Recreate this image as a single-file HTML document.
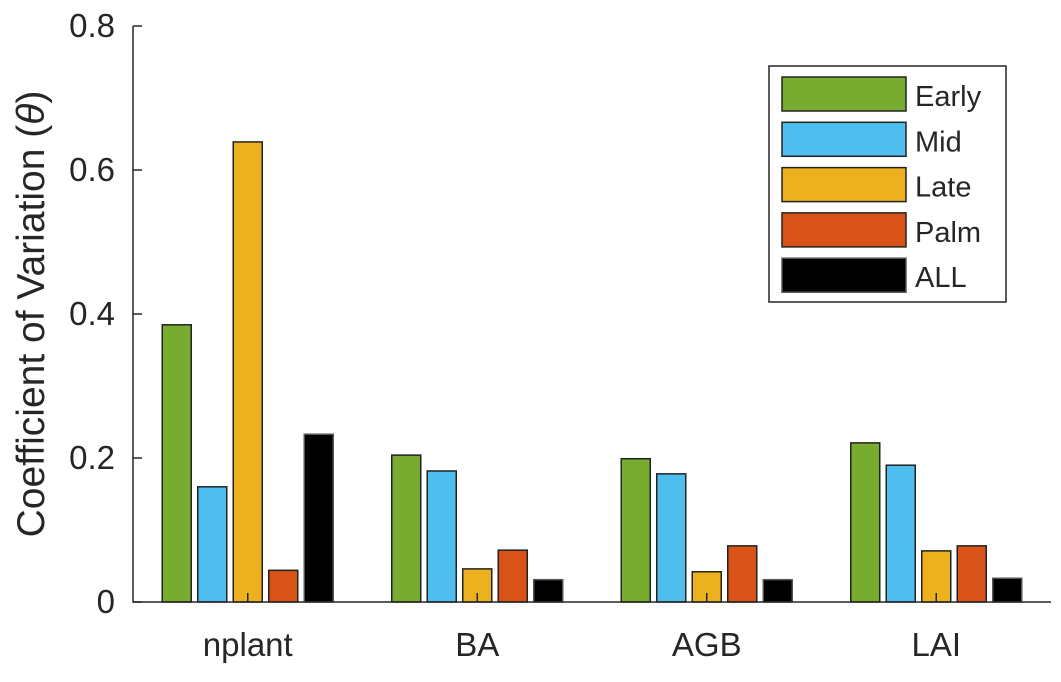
<!DOCTYPE html>
<html><head><meta charset="utf-8"><style>
body{margin:0;background:#fff}
svg text{font-family:"Liberation Sans",Arial,sans-serif;fill:#262626}
</style></head><body>
<svg width="1061" height="677" xmlns="http://www.w3.org/2000/svg">
<rect width="1061" height="677" fill="#fff"/>
<g id="bars"></g>
<g id="axes"></g>
<g id="legend"></g>
</svg>
<script>
const categories=["nplant","BA","AGB","LAI"];
const seriesNames=["Early","Mid","Late","Palm","ALL"];
const seriesColors=["#77ac30","#4dbeee","#edb120","#d95319","#000000"];
const early=[0.385,0.204,0.199,0.221];
const mid=[0.160,0.182,0.178,0.190];
const late=[0.639,0.046,0.042,0.071];
const palm=[0.044,0.072,0.078,0.078];
const all=[0.233,0.031,0.031,0.033];
const yTicks=[0,0.2,0.4,0.6,0.8];
const yTickLabels=["0","0.2","0.4","0.6","0.8"];
const series=[early,mid,late,palm,all];
const NS="http://www.w3.org/2000/svg";
const L=133,R=1051,T=26,B=602;
function xs(v){return L+(v-0.5)/4*(R-L);}
function ys(v){return B-v/0.8*(B-T);}
function mk(t,a,p){const e=document.createElementNS(NS,t);for(const k in a)e.setAttribute(k,a[k]);p.appendChild(e);return e;}
const gb=document.getElementById('bars'),ga=document.getElementById('axes'),gl=document.getElementById('legend');
const bw=29,step=35.5;
categories.forEach((c,i)=>{
  series.forEach((s,j)=>{
    const cx=xs(i+1)+(j-2)*step;
    const r=mk('rect',{x:cx-bw/2,y:ys(s[i]),width:bw,height:ys(0)-ys(s[i]),fill:seriesColors[j],stroke:j==4?'#555':'#222','stroke-width':1.5},gb);
    
    
  });
  mk('line',{x1:xs(i+1),x2:xs(i+1),y1:B,y2:B-9,stroke:'#262626','stroke-width':1.5},ga);
  const t=mk('text',{x:xs(i+1),y:B+54,'font-size':33,'text-anchor':'middle'},ga);
  t.textContent=c;
  
  
});
mk('path',{d:`M${L},${T}V${B}H${R}`,fill:'none',stroke:'#262626','stroke-width':1.5},ga);
yTicks.forEach((v,i)=>{
  mk('line',{x1:L,x2:L+9,y1:ys(v),y2:ys(v),stroke:'#262626','stroke-width':1.5},ga);
  const t=mk('text',{x:L-18,y:ys(v)+11,'font-size':33,'text-anchor':'end'},ga);
  t.textContent=yTickLabels[i];
  
  
});
const yt=mk('text',{transform:'translate(44,314) rotate(-90)','font-size':39,'text-anchor':'middle'},ga);
yt.innerHTML='Coefficient of Variation (<tspan font-style="italic">θ</tspan>)';


const lb=mk('rect',{x:769,y:66,width:237,height:236,fill:'#fff',stroke:'#262626','stroke-width':1.5},gl);


seriesNames.forEach((n,j)=>{
  const y=77+j*45.3;
  const r=mk('rect',{x:782,y:y,width:124,height:34,fill:seriesColors[j],stroke:j==4?'#555':'#222','stroke-width':1.5},gl);
  
  
  const t=mk('text',{x:915,y:y+29,'font-size':29,fill:'#000'},gl);
  t.textContent=n;
  
  
});
</script>
</body></html>
